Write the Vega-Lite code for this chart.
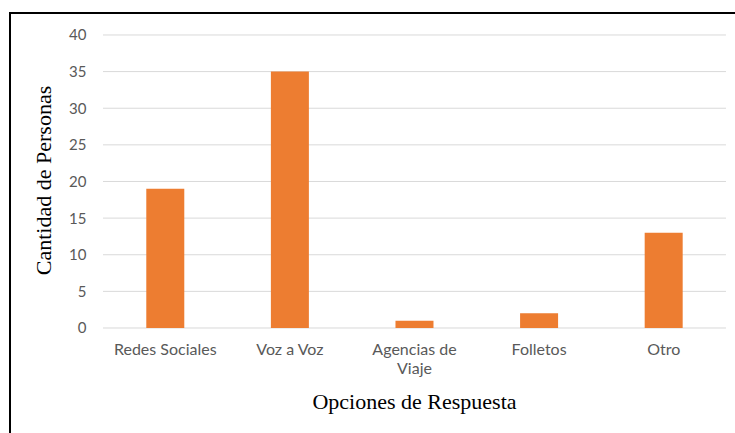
{
  "$schema": "https://vega.github.io/schema/vega-lite/v6.json",
  "autosize": {"type": "none"},
  "padding": {"left": 10, "top": 13, "right": -5, "bottom": -10},
  "width": 730,
  "height": 430,
  "background": "white",
  "config": {
    "view": {"stroke": "black", "strokeWidth": 2},
    "axisX": {
      "title": "Opciones de Respuesta",
      "offset": -115,
      "domain": false,
      "ticks": false,
      "grid": false,
      "labelAngle": 0,
      "labelPadding": 13,
      "labelFont": "Lato",
      "labelFontSize": 16,
      "labelColor": "#595959",
      "labelLineHeight": 19,
      "titleFont": "Liberation Serif",
      "titleFontSize": 22,
      "titleColor": "black",
      "titleFontWeight": "normal",
      "titleX": 404,
      "titleY": 80,
      "titleAlign": "center",
      "titleBaseline": "alphabetic"
    },
    "axisY": {
      "offset": -93,
      "domain": false,
      "ticks": false,
      "grid": false,
      "labelPadding": 17,
      "labelFont": "Lato",
      "labelFontSize": 15,
      "labelColor": "#595959",
      "titleFont": "Liberation Serif",
      "titleFontSize": 22,
      "titleColor": "black",
      "titleFontWeight": "normal",
      "titleAngle": -90,
      "titleX": -60,
      "titleY": 167,
      "titleAlign": "center",
      "titleBaseline": "middle"
    }
  },
  "datasets": {
    "responses": [
      {"opcion": "Redes Sociales", "personas": 19},
      {"opcion": "Voz a Voz", "personas": 35},
      {"opcion": "Agencias de Viaje", "personas": 1},
      {"opcion": "Folletos", "personas": 2},
      {"opcion": "Otro", "personas": 13}
    ],
    "gridlines": [
      {"v": 0}, {"v": 5}, {"v": 10}, {"v": 15}, {"v": 20},
      {"v": 25}, {"v": 30}, {"v": 35}, {"v": 40}
    ]
  },
  "layer": [
    {
      "data": {"name": "gridlines"},
      "mark": {"type": "rule", "color": "#D9D9D9", "strokeWidth": 1},
      "encoding": {
        "y": {
          "field": "v",
          "type": "quantitative",
          "scale": {"domain": [-15.70, 43.0], "nice": false, "zero": false},
          "axis": {"title": "Cantidad de Personas", "values": [0, 5, 10, 15, 20, 25, 30, 35, 40]}
        },
        "x": {
          "datum": "Redes Sociales",
          "bandPosition": 0,
          "scale": {"domain": ["Redes Sociales", "Voz a Voz", "Agencias de Viaje", "Folletos", "Otro"], "paddingInner": 0, "paddingOuter": 0.4294, "align": 0.869},
          "axis": {"title": "Opciones de Respuesta", "labelExpr": "datum.label == 'Agencias de Viaje' ? ['Agencias de', 'Viaje'] : datum.label"}
        },
        "x2": {"datum": "Otro", "bandPosition": 1}
      }
    },
    {
      "data": {"name": "responses"},
      "mark": {"type": "bar", "color": "#ED7D31", "width": {"band": 0.305}},
      "encoding": {
        "x": {
          "field": "opcion",
          "type": "nominal",
          "sort": null,
          "scale": {"domain": ["Redes Sociales", "Voz a Voz", "Agencias de Viaje", "Folletos", "Otro"], "paddingInner": 0, "paddingOuter": 0.4294, "align": 0.869},
          "axis": {"title": "Opciones de Respuesta", "labelExpr": "datum.label == 'Agencias de Viaje' ? ['Agencias de', 'Viaje'] : datum.label"}
        },
        "y": {
          "field": "personas",
          "type": "quantitative",
          "scale": {"domain": [-15.70, 43.0], "nice": false, "zero": false},
          "axis": {"title": "Cantidad de Personas", "values": [0, 5, 10, 15, 20, 25, 30, 35, 40]}
        },
        "y2": {"datum": 0}
      }
    }
  ]
}
